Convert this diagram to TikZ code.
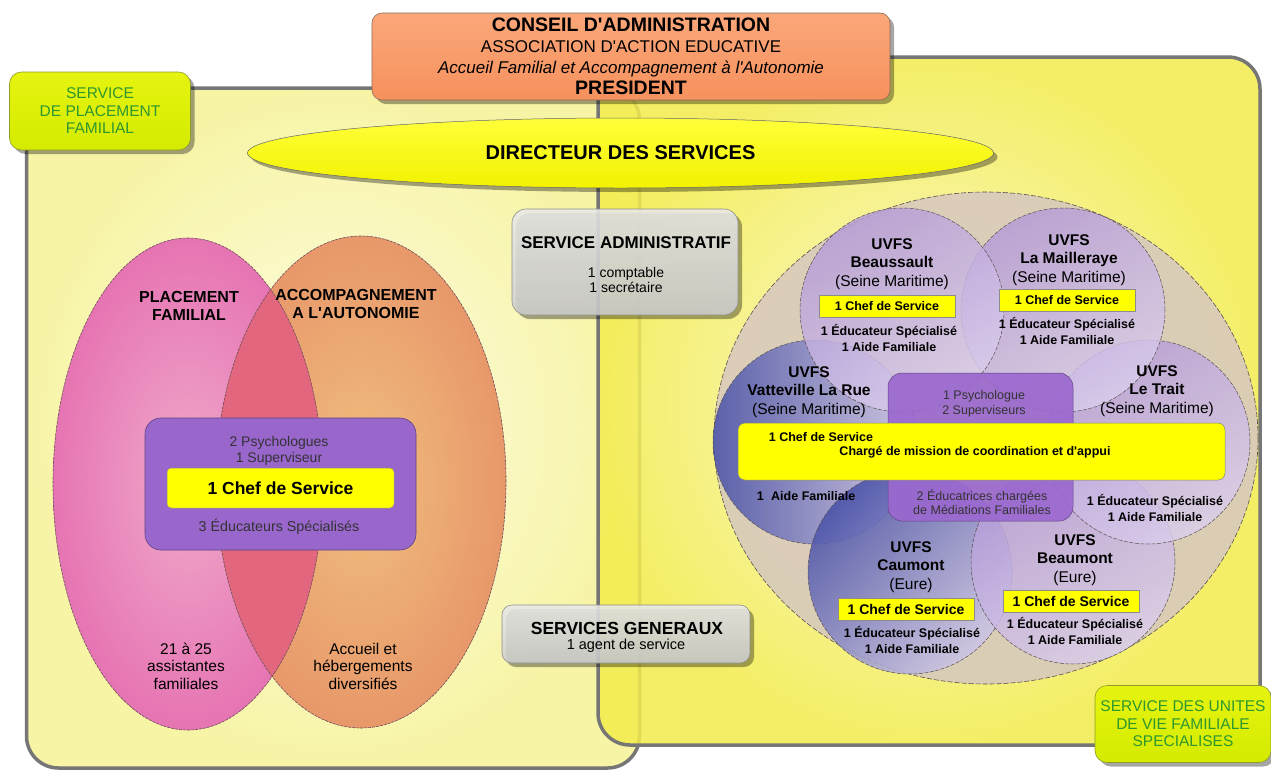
\documentclass[tikz,border=0pt]{standalone}
\usepackage{fontspec}
\setmainfont{Liberation Sans}
\usetikzlibrary{shapes.geometric,shadows}
\definecolor{bgray}{HTML}{767676}
\definecolor{lin}{HTML}{FDFCE3}
\definecolor{lout}{HTML}{F7F4A6}
\definecolor{rin}{HTML}{FAF8C6}
\definecolor{rout}{HTML}{F3EC4E}
\definecolor{ortop}{HTML}{FBA77A}
\definecolor{orbot}{HTML}{F6915D}
\definecolor{orline}{HTML}{8C6A58}
\definecolor{dirtop}{HTML}{FFFF3A}
\definecolor{dirbot}{HTML}{F2F200}
\definecolor{tagtop}{HTML}{E6F410}
\definecolor{tagbot}{HTML}{D4EB00}
\definecolor{tagline}{HTML}{8E9C2A}
\definecolor{tagtext}{HTML}{2F972F}
\definecolor{gtop}{HTML}{E9E9E9}
\definecolor{gbot}{HTML}{CDCDCD}
\definecolor{gline}{HTML}{8E8E8E}
\definecolor{pinkout}{HTML}{E674B3}
\definecolor{pinkin}{HTML}{F0A9CB}
\definecolor{orgout}{HTML}{E8986A}
\definecolor{orgin}{HTML}{F0BF7E}
\definecolor{inter}{HTML}{E2677E}
\definecolor{ellline}{HTML}{6E4C58}
\definecolor{purp}{HTML}{9966CC}
\definecolor{purpline}{HTML}{5F4385}
\definecolor{purp2}{HTML}{9B68CF}
\definecolor{chefy}{HTML}{FFFF00}
\definecolor{beige}{HTML}{D8CABC}
\definecolor{ringline}{HTML}{5A5050}
\definecolor{lavtop}{HTML}{B59BD8}
\definecolor{lavbot}{HTML}{DACEEC}
\definecolor{navy}{HTML}{4A52A8}
\definecolor{navylight}{HTML}{CEC6E6}
\newcommand{\ap}{\textquotesingle}
\begin{document}
\begin{tikzpicture}[x=1pt,y=-1pt,
  bigbox/.style={draw=bgray, line width=3.5pt, rounded corners=32pt, inner sep=0pt},
  shd/.style={drop shadow={shadow xshift=4pt, shadow yshift=-4pt, fill=black, opacity=0.35}},
  tag/.style={shd, draw=tagline, line width=0.6pt, rounded corners=12pt, top color=tagtop, bottom color=tagbot, inner sep=0pt, align=center, text=tagtext},
  greybox/.style={shd, draw=gline, line width=0.6pt, rounded corners=14pt, top color=gtop, bottom color=gbot, fill opacity=0.88, inner sep=0pt},
  chef/.style={fill=chefy, draw=black!45, line width=0.5pt, inner sep=0pt, font=\bfseries\fontsize{12.5}{14}\selectfont},
  uvfs/.style={circle, minimum size=204pt, inner sep=0pt, draw=ringline, line width=0.5pt, dash pattern=on 4pt off 1.5pt, fill opacity=0.82},
  lav/.style={uvfs, top color=lavtop, bottom color=lavbot, shading angle=30},
  title/.style={align=center, inner sep=0pt, font=\fontsize{15.5}{18.5}\selectfont},
  staff/.style={align=center, inner sep=0pt, font=\bfseries\fontsize{12.5}{16}\selectfont},
  reg/.style={align=center, inner sep=0pt},
  ellb/.style={draw=ellline, line width=0.6pt, dash pattern=on 3pt off 1pt}
]
\useasboundingbox (0,0) rectangle (1271,769);
\fill[white] (0,0) rectangle (1271,769);

% big service areas
\node[bigbox, inner color=lin, outer color=lout, minimum width=613pt, minimum height=680pt] (spf) at (333,428) {};
\node[bigbox, inner color=rin, outer color=rout, fill opacity=0.86, minimum width=662pt, minimum height=688pt] (suvfs) at (929,401) {};

% left Venn
\node[ellipse, minimum width=270pt, minimum height=492pt, inner sep=0pt, inner color=pinkin, outer color=pinkout] (pf) at (188,484) {};
\node[ellipse, minimum width=290pt, minimum height=492pt, inner sep=0pt, inner color=orgin, outer color=orgout] (aa) at (361,482) {};
\begin{scope}
\clip (pf.center) ellipse [x radius=135pt, y radius=246pt];
\fill[inter] (aa.center) ellipse [x radius=145pt, y radius=246pt];
\end{scope}
\draw[ellb] (pf.center) ellipse [x radius=135pt, y radius=246pt];
\draw[ellb] (aa.center) ellipse [x radius=145pt, y radius=246pt];

\node[reg, font=\bfseries\fontsize{16}{18.5}\selectfont] (pft) at (189,306) {PLACEMENT\\FAMILIAL};
\node[reg, font=\bfseries\fontsize{16}{18.5}\selectfont] (aat) at (356,304) {ACCOMPAGNEMENT\\A L\ap AUTONOMIE};
\node[reg, font=\fontsize{15.5}{17.5}\selectfont] (pfb) at (186,666) {21 à 25\\assistantes\\familiales};
\node[reg, font=\fontsize{15.5}{17.5}\selectfont] (aab) at (363,666) {Accueil et\\hébergements\\diversifiés};

\node[draw=purpline, line width=0.6pt, fill=purp, rounded corners=16pt, minimum width=271pt, minimum height=132pt, inner sep=0pt] (pfteam) at (280.5,484) {};
\node[reg, text=black!80, font=\fontsize{14}{16}\selectfont] (psy) at (279,451) {2 Psychologues\\1 Superviseur};
\node[chef, rounded corners=4pt, minimum width=227pt, minimum height=40pt, font=\bfseries\fontsize{17.5}{20}\selectfont] (chefL) at (280.5,488) {1 Chef de Service};
\node[reg, text=black!80, font=\fontsize{14.3}{16}\selectfont] (edu) at (279,527) {3 Éducateurs Spécialisés};

% grey service boxes
\node[greybox, minimum width=226pt, minimum height=106pt] (adm) at (625,262) {};
\node[reg, font=\bfseries\fontsize{17}{18}\selectfont] (admt) at (626,243) {SERVICE ADMINISTRATIF};
\node[reg, font=\fontsize{14}{15}\selectfont] (admp) at (626,280) {1 comptable\\1 secrétaire};
\node[greybox, rounded corners=10pt, minimum width=248pt, minimum height=58pt] (sg) at (626,634) {};
\node[reg, font=\bfseries\fontsize{17.5}{18}\selectfont] (sgt) at (627,628) {SERVICES GENERAUX};
\node[reg, font=\fontsize{14.5}{16}\selectfont] (sgp) at (626,646) {1 agent de service};

% right cluster
\node[ellipse, minimum width=544pt, minimum height=492pt, inner sep=0pt, fill=beige, fill opacity=0.9, draw=ringline, line width=0.6pt, dash pattern=on 5pt off 2pt] (ring) at (986,438) {};
\node[uvfs, fill opacity=0.88, left color=navy, right color=navylight] (cV) at (815,442) {};
\node[uvfs, fill opacity=0.88, top color=navy, bottom color=navylight, shading angle=45] (cC) at (910,572) {};
\node[lav] (cB) at (1073,562) {};
\node[lav] (cT) at (1148,442) {};
\node[lav] (cM) at (1063,310) {};
\node[lav] (cBs) at (902,310) {};

\node[draw=purpline, line width=0.5pt, fill=purp2, fill opacity=0.92, rounded corners=14pt, minimum width=185pt, minimum height=148pt, inner sep=0pt] (coord) at (980.5,447) {};
\node[reg, text=black!80, font=\fontsize{12.5}{14.5}\selectfont] (coordt) at (984,404) {1 Psychologue\\2 Superviseurs};
\node[reg, text=black!80, font=\fontsize{12.5}{14.5}\selectfont] (coordb) at (982,502) {2 Éducatrices chargées\\de Médiations Familiales};

\node[fill=chefy, draw=black!50, line width=0.5pt, rounded corners=7pt, minimum width=487pt, minimum height=57pt, inner sep=0pt] (bar) at (981.5,451.5) {};
\node[staff] (bar1) at (821,437) {1 Chef de Service};
\node[staff] (bar2) at (975,452) {Chargé de mission de coordination et d\ap appui};

% Beaussault
\node[title] (tBs) at (892,264) {\textbf{UVFS}\\\textbf{Beaussault}\\(Seine Maritime)};
\node[chef, minimum width=136pt, minimum height=22pt] (chBs) at (887,306) {1 Chef de Service};
\node[staff] (sBs) at (889,338) {1 Éducateur Spécialisé\\1 Aide Familiale};
% La Mailleraye
\node[title] (tM) at (1069,260) {\textbf{UVFS}\\\textbf{La Mailleraye}\\(Seine Maritime)};
\node[chef, minimum width=136pt, minimum height=22pt] (chM) at (1067,300) {1 Chef de Service};
\node[staff] (sM) at (1067,331.5) {1 Éducateur Spécialisé\\1 Aide Familiale};
% Vatteville
\node[title] (tV) at (809,392) {\textbf{UVFS}\\\textbf{Vatteville La Rue}\\(Seine Maritime)};
\node[staff] (sV) at (806,496) {1\hspace{0.6em}Aide Familiale};
% Le Trait
\node[title] (tT) at (1157,391) {\textbf{UVFS}\\\textbf{Le Trait}\\(Seine Maritime)};
\node[staff] (sT) at (1155,508) {1 Éducateur Spécialisé\\1 Aide Familiale};
% Caumont
\node[title] (tC) at (911,567) {\textbf{UVFS}\\\textbf{Caumont}\\(Eure)};
\node[chef, minimum width=136pt, minimum height=22pt, font=\bfseries\fontsize{14}{16}\selectfont] (chC) at (906,609) {1 Chef de Service};
\node[staff] (sC) at (912,640.5) {1 Éducateur Spécialisé\\1 Aide Familiale};
% Beaumont
\node[title] (tB) at (1075,560) {\textbf{UVFS}\\\textbf{Beaumont}\\(Eure)};
\node[chef, minimum width=136pt, minimum height=22pt, font=\bfseries\fontsize{14}{16}\selectfont] (chB) at (1071,601) {1 Chef de Service};
\node[staff] (sB) at (1075,631) {1 Éducateur Spécialisé\\1 Aide Familiale};

% governance
\node[shd, draw=orline, line width=0.6pt, rounded corners=10pt, top color=ortop, bottom color=orbot, minimum width=518pt, minimum height=87pt, inner sep=0pt, align=center, font=\fontsize{17}{21}\selectfont] (ca) at (631,56.5) {{\bfseries\fontsize{19.5}{21}\selectfont CONSEIL D\ap ADMINISTRATION}\\ASSOCIATION D\ap ACTION EDUCATIVE\\{\itshape Accueil Familial et Accompagnement à l\ap Autonomie}\\{\bfseries\fontsize{19.5}{21}\selectfont PRESIDENT}};
\node[shd, ellipse, draw=black!60, line width=0.5pt, top color=dirtop, bottom color=dirbot, minimum width=746pt, minimum height=70pt, inner sep=0pt, font=\bfseries\fontsize{20}{22}\selectfont] (dir) at (620.5,153) {DIRECTEUR DES SERVICES};

% tags
\node[tag, minimum width=181pt, minimum height=78pt, font=\fontsize{15.5}{17.5}\selectfont] (tagL) at (100,111) {SERVICE\\DE PLACEMENT\\FAMILIAL};
\node[tag, minimum width=176pt, minimum height=77pt, font=\fontsize{15.5}{17.5}\selectfont] (tagR) at (1183,724) {SERVICE DES UNITES\\DE VIE FAMILIALE\\SPECIALISES};
\end{tikzpicture}
\end{document}
